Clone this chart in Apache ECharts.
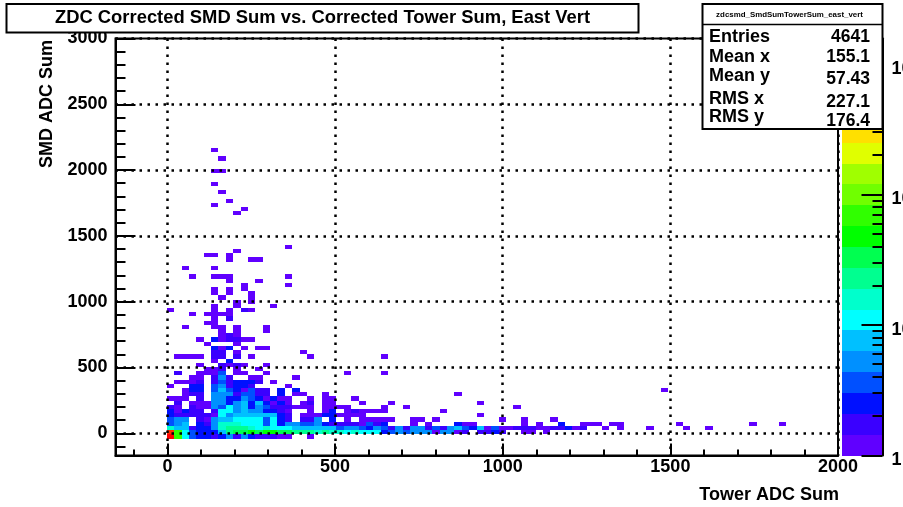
<!DOCTYPE html>
<html><head><meta charset="utf-8">
<style>html,body{margin:0;padding:0;background:#fff}#c{width:903px;height:507px}</style>
<script src="https://cdn.jsdelivr.net/npm/echarts@6/dist/echarts.min.js"></script>
</head><body><div id="c"></div>
<script>
// Histogram binning
const xBinStart = -200, xBinWidth = 22, yBinStart = -200, yBinWidth = 32;
const xMajorTicks = [0, 500, 1000, 1500, 2000];
const xMinorTicks = [-100, 100, 200, 300, 400, 600, 700, 800, 900, 1100, 1200, 1300, 1400, 1600, 1700, 1800, 1900];
const yMajorTicks = [0, 500, 1000, 1500, 2000, 2500, 3000];
const yMinorTicks = [-100, 100, 200, 300, 400, 600, 700, 800, 900, 1100, 1200, 1300, 1400, 1600, 1700, 1800, 1900, 2100, 2200, 2300, 2400, 2600, 2700, 2800, 2900];
const paletteLevels = ['#6000ff','#3a00ff','#0010ff','#0050ff','#0090ff','#00c0ff','#00ffff','#00ffcc','#00ff90','#00ff50','#00ff00','#30ff00','#70ff00','#a0ff00','#e0ff00','#ffe000','#ffa000','#ff7000','#ff3000','#ff0000'];
const zDecadeTicks = [0, 1, 2, 3];
const zMinorTicks = [2, 3, 4, 5, 6, 7, 8, 9, 20, 30, 40, 50, 60, 70, 80, 90, 200, 300, 400, 500, 600, 700, 800, 900].map(Math.log10);
const zTopDecades = 3.193;
const statsNames = ['Entries', 'Mean x', 'Mean y', 'RMS x', 'RMS y'];
const statsValues = ['4641', '155.1', '57.43', '227.1', '176.4'];

// [yBin, first xBin, colour levels in base 20, '.' is an empty bin]
const coreRows = [
 [5, 9, 'jb632212414211100..0'],
 [6, 9, 'ib63222589'+'9a9aa99888'+'7877676662'+'3434440440'+'1.1121..00.0'],
 [7, 9, '7551224788'+'8767666555'+'5553443243'+'1414413145'+'3250300111'+'0011201'+'..0.0...0....0..0'],
 [8, 9, '345.214777'+'6663624433'+'4211110312'+'...0.0...2'+'00......0.'+'0..2..000.'+'00.......0'+'.........0'+'...0'],
 [9, 9, '344.104556'+'6663621.11'+'4.2.0.0000'+'0..00.0...'+'.....0..0.'+'..0'],
 [10, 9, '2111110645'+'5555521.00'+'0220000...'],
 [10, 51, '0'],
 [11, 9, '20211.1664'+'5442210..0'+'.02.010000'],
 [11, 46, '0'],
 [12, 9, '10.1004364'+'5243111000'+'.0000....0'+'..0'],
 [12, 56, '0'],
 [13, 9, '.1.0004424'+'5252020.01'+'.00...0...0'],
 [13, 51, '0'],
 [14, 9, '000.1.4422'+'4320200..0'+'.00..0'],
 [15, 9, '..011.4441'+'3311.2.00..0'],
 [15, 48, '0'],
 [16, 9, '..022.3532'+'0311.2.2'],
 [16, 76, '0'],
 [17, 9, '0..22.3412'+'21....0'],
 [18, 9, '.0001.1312'+'221.0']
];
const sparseRows = [
 [19, 9, '...00.141..00'], [19, 26, '0'],
 [20, 9, '.1..0003.00..0'], [20, 33, '0'], [20, 38, '0'],
 [21, 14, '001.0..0'],
 [22, 13, '0..1010..0'],
 [23, 15, '0.2'],
 [24, 10, '0000.11.1.0'], [24, 28, '0'], [24, 38, '0'],
 [25, 15, '11.0'], [25, 27, '0'],
 [26, 15, '202.0.00'],
 [27, 14, '0...0'],
 [28, 13, '0.201100'],
 [29, 16, '010'],
 [30, 16, '0.0...0'],
 [31, 11, '0...00.0...0'],
 [32, 14, '00'],
 [33, 15, '0.1'],
 [34, 12, '0.0000'],
 [35, 9, '0.....0.0.10'],
 [36, 15, '0..0....0'],
 [37, 18, '0.0'],
 [38, 16, '0...0']
];
const highRows = [
 [39, 15, '0.0..0'], [40, 15, '0.0.0'], [41, 19, '0.....0'], [42, 17, '0...0'],
 [43, 12, '0..000'], [43, 25, '0'], [45, 11, '0...0'], [47, 17, '0..00'],
 [48, 14, '00.0'], [49, 18, '0'], [50, 25, '0'], [58, 18, '0'], [59, 19, '0'],
 [60, 15, '0'], [61, 17, '0'], [63, 16, '0'], [65, 15, '0'], [68, 15, '00'],
 [71, 16, '0'], [73, 15, '0']
];

const cells = [];
coreRows.concat(sparseRows, highRows).forEach(function (r) {
  const yLow = yBinStart + yBinWidth * r[0];
  r[2].split('').forEach(function (ch, k) {
    if (ch === '.') return;
    const xLow = xBinStart + xBinWidth * (r[1] + k);
    cells.push([xLow, yLow, xLow + xBinWidth, yLow + yBinWidth, parseInt(ch, 20)]);
  });
});
const bandData = paletteLevels.map(function (c, i) {
  return [0, zTopDecades * i / 20, 1, zTopDecades * (i + 1) / 20, i];
});

function drawBox(params, api) {
  const a = api.coord([api.value(0), api.value(1)]);
  const b = api.coord([api.value(2), api.value(3)]);
  const x0 = Math.round(a[0]), x1 = Math.round(b[0]), y0 = Math.round(b[1]), y1 = Math.round(a[1]);
  return { type: 'rect', shape: { x: x0, y: y0, width: x1 - x0, height: y1 - y0 },
           style: { fill: paletteLevels[api.value(4)], stroke: null } };
}

const FF = '"Liberation Sans", Arial, sans-serif';
const labelStyle = { fontFamily: FF, fontWeight: 'bold', fontSize: 18, color: '#000' };
const dotted = { show: true, lineStyle: { color: '#000', width: 2.5, type: [2.5, 5.5] } };
const blackLine = { show: true, onZero: false, lineStyle: { color: '#000', width: 2 } };
const hiddenLine = { show: false, onZero: false };
const plainNumber = function (v) { return String(v); };
const X_MIN = -155, Y_MIN = -169;

const statTexts = [];
const rowLeftY = [37, 57, 76, 99, 117], rowRightY = [37, 57, 79, 102, 121];
statsNames.forEach(function (n, i) {
  statTexts.push({ type: 'text', z: 30, x: 709, y: rowLeftY[i],
    style: { text: n, font: 'bold 18px ' + FF, fill: '#000', textVerticalAlign: 'middle' } });
  statTexts.push({ type: 'text', z: 30, x: 870, y: rowRightY[i],
    style: { text: statsValues[i], font: 'bold 17.5px ' + FF, fill: '#000', textAlign: 'right', textVerticalAlign: 'middle' } });
});

const option = {
  animation: false,
  backgroundColor: '#fff',
  textStyle: { fontFamily: FF },
  grid: [
    { left: 115.5, top: 38.5, width: 722.5, height: 417, show: true, borderColor: '#000', borderWidth: 2, backgroundColor: 'transparent', containLabel: false, outerBoundsMode: 'none' },
    { left: 842, top: 38.5, width: 40.5, height: 417, containLabel: false, outerBoundsMode: 'none' }
  ],
  xAxis: [
    { type: 'value', gridIndex: 0, min: X_MIN, max: 2000, z: 5, axisLine: blackLine,
      axisTick: { show: true, inside: true, length: 12, lineStyle: { color: '#000', width: 2 }, customValues: xMajorTicks },
      axisLabel: Object.assign({ margin: 3, customValues: xMajorTicks, formatter: plainNumber }, labelStyle), splitLine: dotted },
    { type: 'value', gridIndex: 0, min: X_MIN, max: 2000, z: 5, position: 'bottom', axisLine: hiddenLine,
      axisTick: { show: true, inside: true, length: 6, lineStyle: { color: '#000', width: 2 }, customValues: xMinorTicks },
      axisLabel: { show: false }, splitLine: { show: false } },
    { type: 'value', gridIndex: 1, min: 0, max: 1, show: false }
  ],
  yAxis: [
    { type: 'value', gridIndex: 0, min: Y_MIN, max: 3000, z: 5, axisLine: blackLine,
      axisTick: { show: true, inside: true, length: 20, lineStyle: { color: '#000', width: 2 }, customValues: yMajorTicks },
      axisLabel: Object.assign({ margin: 8, customValues: yMajorTicks, formatter: plainNumber }, labelStyle), splitLine: dotted },
    { type: 'value', gridIndex: 0, min: Y_MIN, max: 3000, z: 5, position: 'left', axisLine: hiddenLine,
      axisTick: { show: true, inside: true, length: 10, lineStyle: { color: '#000', width: 2 }, customValues: yMinorTicks },
      axisLabel: { show: false }, splitLine: { show: false } },
    { type: 'value', gridIndex: 1, min: 0, max: zTopDecades, position: 'right', z: 5, axisLine: blackLine,
      axisTick: { show: true, inside: true, length: 21, lineStyle: { color: '#000', width: 2 }, customValues: zDecadeTicks },
      axisLabel: Object.assign({ margin: 9, customValues: zDecadeTicks, verticalAlign: 'top', lineHeight: 10,
        formatter: function (v) { return String(Math.round(Math.pow(10, v))); } }, labelStyle),
      splitLine: { show: false } },
    { type: 'value', gridIndex: 1, min: 0, max: zTopDecades, position: 'right', z: 5, axisLine: hiddenLine,
      axisTick: { show: true, inside: true, length: 10, lineStyle: { color: '#000', width: 2 }, customValues: zMinorTicks },
      axisLabel: { show: false }, splitLine: { show: false } }
  ],
  series: [
    { type: 'custom', xAxisIndex: 0, yAxisIndex: 0, z: 2, coordinateSystem: 'cartesian2d', clip: true,
      renderItem: drawBox, encode: { x: [0, 2], y: [1, 3] }, data: cells, silent: true },
    { type: 'custom', xAxisIndex: 2, yAxisIndex: 2, z: 2, coordinateSystem: 'cartesian2d',
      renderItem: drawBox, encode: { x: [0, 2], y: [1, 3] }, data: bandData, silent: true }
  ],
  graphic: [
    { type: 'rect', z: 20, shape: { x: 6.5, y: 4, width: 632, height: 28.5 }, style: { fill: '#fff', stroke: '#000', lineWidth: 2 } },
    { type: 'text', z: 21, x: 322.5, y: 18,
      style: { text: 'ZDC Corrected SMD Sum vs. Corrected Tower Sum, East Vert', font: 'bold 18.4px ' + FF, fill: '#000', textAlign: 'center', textVerticalAlign: 'middle' } },
    { type: 'rect', z: 25, shape: { x: 702.5, y: 4, width: 180, height: 125 }, style: { fill: '#fff', stroke: '#000', lineWidth: 2 } },
    { type: 'line', z: 26, shape: { x1: 702.5, y1: 24.5, x2: 882.5, y2: 24.5 }, style: { stroke: '#000', lineWidth: 1.5 } },
    { type: 'text', z: 30, x: 789.5, y: 15,
      style: { text: 'zdcsmd_SmdSumTowerSum_east_vert', font: 'bold 7.9px ' + FF, fill: '#000', textAlign: 'center', textVerticalAlign: 'middle' } },
    { type: 'text', z: 10, rotation: Math.PI / 2, x: 38, y: 168,
      style: { text: 'SMD ADC Sum', font: 'bold 18px ' + FF, fill: '#000' } },
    { type: 'text', z: 10, x: 839, y: 495,
      style: { text: 'Tower ADC Sum', font: 'bold 18px ' + FF, fill: '#000', textAlign: 'right', textVerticalAlign: 'middle' } }
  ].concat(statTexts)
};
echarts.init(document.getElementById('c'), null, { renderer: 'canvas' }).setOption(option);
</script></body></html>
